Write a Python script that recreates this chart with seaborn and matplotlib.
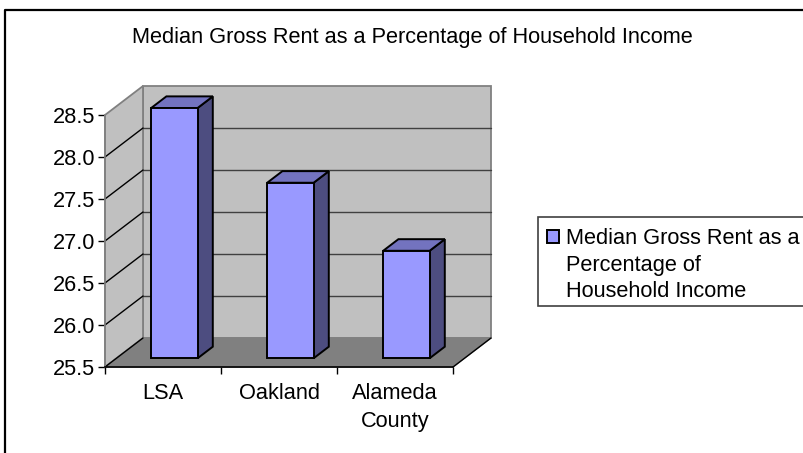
import matplotlib
matplotlib.use("Agg")
import matplotlib.pyplot as plt
from matplotlib.patches import Polygon, Rectangle
from matplotlib.transforms import ScaledTranslation
import pandas as pd
import seaborn as sns

categories = ["LSA", "Oakland", "Alameda\nCounty"]
values = [28.48, 27.59, 26.78]
y_ticks = [25.5, 26.0, 26.5, 27.0, 27.5, 28.0, 28.5]
title = "Median Gross Rent as a Percentage of Household Income"
legend_text = "Median Gross Rent as a\nPercentage of\nHousehold Income"

W, H = 804, 453
DX, DY = 38, 29  # depth of the fake 3d box, in pixels
BAR_NEAR = 0.30
BAR_FAR = 0.70
FONT = 15.7

sns.set_theme(style="white")
plt.rcParams["font.family"] = ["Liberation Sans", "DejaVu Sans"]

fig = plt.figure(figsize=(W / 100, H / 100), dpi=100)
ax = fig.add_axes([105 / W, 1 - 367 / H, 348 / W, 252 / H])
df = pd.DataFrame({"place": categories, "value": values})
sns.barplot(data=df, x="place", y="value", width=0.40, color="#9999ff", saturation=1,
            edgecolor="black", linewidth=1.4, ax=ax, zorder=5)
ax.set_ylim(y_ticks[0], y_ticks[-1])
ax.set_xlim(-0.5, 2.5)
ax.set_xlabel("")
ax.set_ylabel("")
ax.set_yticks(y_ticks)
ax.set_yticklabels([f"{t:.1f}" for t in y_ticks], fontsize=FONT, color="black")
ax.set_xticks([-0.5, 0.5, 1.5, 2.5])
ax.set_xticklabels([])
ax.tick_params(axis="both", length=5, width=1, color="black", direction="out", pad=2,
               bottom=True, left=True)
ax.patch.set_visible(False)
for name, sp in ax.spines.items():
    sp.set_visible(name in ("left", "bottom"))
    sp.set_color("black" if name == "bottom" else "#808080")
    sp.set_linewidth(1.2)
    sp.set_zorder(3)


def depth(f):
    # data transform pushed back f of the way into the box
    return ax.transData + ScaledTranslation(f * DX / 100, f * DY / 100, fig.dpi_scale_trans)


x0, x1 = ax.get_xlim()
y0, y1 = ax.get_ylim()


def quad(pts_near, pts_far, t_near, t_far, **kw):
    near = t_near.transform(pts_near)
    far = t_far.transform(pts_far)
    p = Polygon(list(near) + list(far), closed=True, transform=None, clip_on=False, **kw)
    ax.add_artist(p)


def seg(a, b, **kw):
    ax.add_artist(plt.Line2D([a[0], b[0]], [a[1], b[1]], transform=None, clip_on=False, **kw))


bars = list(ax.patches)
front = depth(0)
back = depth(1)
wall = dict(facecolor="#c0c0c0", edgecolor="#808080", linewidth=1.3, zorder=1)
quad([(x0, y1), (x1, y1)], [(x1, y0), (x0, y0)], back, back, **wall)
quad([(x0, y0), (x0, y1)], [(x0, y1), (x0, y0)], front, back, **wall)
quad([(x0, y0), (x1, y0)], [(x1, y0), (x0, y0)], front, back,
     facecolor="#808080", edgecolor="#808080", linewidth=1, zorder=2)

# grid on the back and side walls
for t in y_ticks[1:-1]:
    seg(back.transform((x0, t)), back.transform((x1, t)), color="#404040", lw=1, zorder=2)
for t in y_ticks[:-1]:
    seg(front.transform((x0, t)), back.transform((x0, t)), color="black", lw=1, zorder=2)
seg(front.transform((x1, y0)), back.transform((x1, y0)), color="black", lw=1, zorder=3)

# bars: move the seaborn faces into the box, then add side and top
edge = dict(edgecolor="black", linewidth=1.4, joinstyle="miter")
n, f = depth(BAR_NEAR), depth(BAR_FAR)
for bar in bars:
    l, r = bar.get_x(), bar.get_x() + bar.get_width()
    top = bar.get_height()
    bar.set_y(y0)
    bar.set_height(top - y0)
    bar.set_clip_on(False)
    bar.set_transform(n)
    quad([(r, y0), (r, top)], [(r, top), (r, y0)], n, f, facecolor="#4d4d80", zorder=4, **edge)
    quad([(l, top), (r, top)], [(r, top), (l, top)], n, f, facecolor="#7373bf", zorder=4, **edge)

# category labels, centred under each slot
for i, c in enumerate(categories):
    ax.annotate(c, (i, y0), xytext=(0, -16), textcoords="offset pixels", ha="center", va="top",
                annotation_clip=False, fontsize=FONT, color="black", linespacing=1.45)

fig.text(412 / W, 1 - 37 / H, title, ha="center", va="center", fontsize=FONT, color="black")

# legend box, runs off the right edge
fig.add_artist(Rectangle((538 / W, 1 - 306 / H), 270 / W, 89 / H, transform=fig.transFigure,
                         facecolor="white", edgecolor="#404040", linewidth=1.2))
fig.add_artist(Rectangle((547 / W, 1 - 243 / H), 12 / W, 13 / H, transform=fig.transFigure,
                         facecolor="#9999ff", edgecolor="black", linewidth=1.4))
fig.text(566 / W, 1 - 265 / H, legend_text, ha="left", va="center", fontsize=FONT, color="black",
         linespacing=1.35)

# chart frame, only top and left are on the canvas
fig.add_artist(plt.Line2D([5 / W, 5 / W, 1], [0, 1 - 10 / H, 1 - 10 / H], transform=fig.transFigure,
                          color="black", lw=1.6))

fig.savefig("out.png", dpi=100)
